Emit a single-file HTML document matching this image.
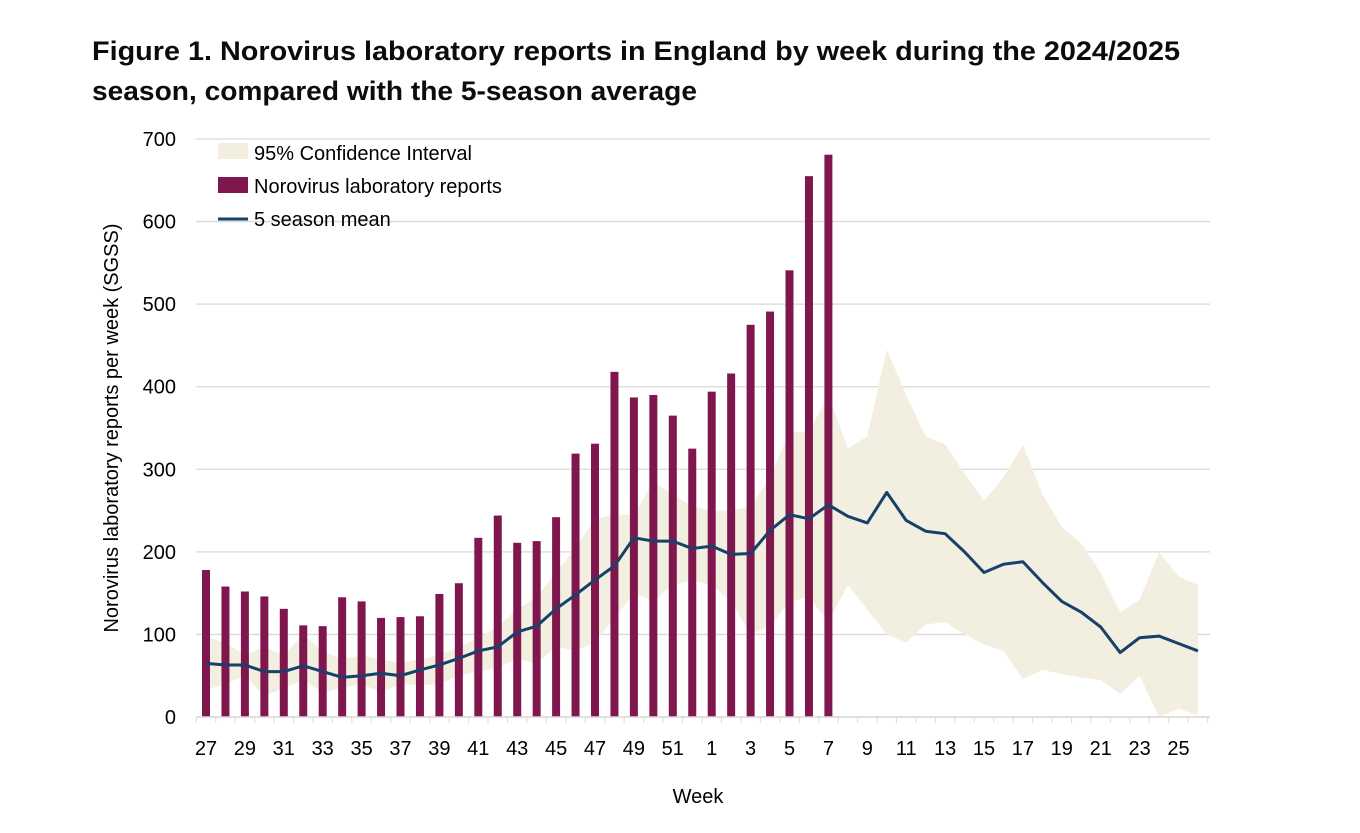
<!DOCTYPE html>
<html><head><meta charset="utf-8"><style>
body{margin:0;background:#fff;font-family:"Liberation Sans",Arial,sans-serif}
svg text{font-family:"Liberation Sans",Arial,sans-serif}
</style></head><body>
<svg id="c" width="1360" height="828">
<text x="92" y="60" font-size="27" font-weight="bold" fill="#0b0c0c" textLength="1088" lengthAdjust="spacingAndGlyphs">Figure 1. Norovirus laboratory reports in England by week during the 2024/2025</text>
<text x="92" y="100" font-size="27" font-weight="bold" fill="#0b0c0c" textLength="605" lengthAdjust="spacingAndGlyphs">season, compared with the 5-season average</text>
<g id="grid"></g><g id="ci"></g><g id="bars"></g><g id="line"></g><g id="axes"></g>
<text transform="translate(118,428) rotate(-90)" text-anchor="middle" font-size="20" fill="#000">Norovirus laboratory reports per week (SGSS)</text>
<text x="698" y="803" text-anchor="middle" font-size="20" fill="#000">Week</text>
<g>
<rect x="218" y="143" width="30" height="16" fill="#f2eee0"/>
<text x="254" y="160" font-size="20">95% Confidence Interval</text>
<rect x="218" y="177" width="30" height="16" fill="#7f174e"/>
<text x="254" y="193" font-size="20">Norovirus laboratory reports</text>
<line x1="218" y1="219" x2="248" y2="219" stroke="#17406a" stroke-width="3"/>
<text x="254" y="226" font-size="20">5 season mean</text>
</g>
</svg>
<script>
const weeks=[27,28,29,30,31,32,33,34,35,36,37,38,39,40,41,42,43,44,45,46,47,48,49,50,51,52,1,2,3,4,5,6,7,8,9,10,11,12,13,14,15,16,17,18,19,20,21,22,23,24,25,26];
const reports=[178,158,152,146,131,111,110,145,140,120,121,122,149,162,217,244,211,213,242,319,331,418,387,390,365,325,394,416,475,491,541,655,681];
const mean=[65,63,63,55,55,62,55,48,50,53,50,57,63,71,80,85,103,110,131,148,166,183,217,213,213,204,207,197,198,226,245,240,257,243,235,272,238,225,222,200,175,185,188,163,140,127,109,78,96,98,89,80];
const ciUpper=[97,90,75,85,75,100,80,70,75,70,65,70,75,85,95,110,130,145,175,205,240,245,245,285,270,255,250,250,255,290,345,345,390,325,340,445,390,340,330,295,262,290,330,270,230,210,175,127,142,200,170,160];
const ciLower=[33,40,50,25,35,45,30,35,40,30,40,38,40,50,55,60,70,65,85,80,90,120,150,140,160,165,160,140,100,110,140,145,115,160,130,100,90,112,115,100,88,80,46,57,52,48,45,28,50,0,10,2];
const yTicks=[0,100,200,300,400,500,600,700];
const NS="http://www.w3.org/2000/svg";
const X0=206,DX=19.45,Y0=717,KY=(717-139)/700;
const x=i=>X0+i*DX, y=v=>Y0-v*KY;
function mk(t,a,p){const e=document.createElementNS(NS,t);for(const k in a)e.setAttribute(k,a[k]);document.getElementById(p).appendChild(e);return e;}
yTicks.forEach(v=>{
 const g=mk('line',{x1:196,x2:1210,y1:y(v),y2:y(v),stroke:'#d9d9d9','stroke-width':1.3},'grid');
 
 
 const t=mk('text',{x:176,y:y(v)+7,'text-anchor':'end','font-size':20},'axes');t.textContent=v;
 
 
});
let pts=ciUpper.map((v,i)=>x(i)+','+y(v));
for(let i=ciLower.length-1;i>=0;i--)pts.push(x(i)+','+y(ciLower[i]));
const ci=mk('polygon',{points:pts.join(' '),fill:'#f2eee0'},'ci');


reports.forEach((v,i)=>{
 const b=mk('rect',{x:x(i)-4,y:y(v),width:8,height:v*KY,fill:'#7f174e'},'bars');
 
 
});
const ln=mk('polyline',{points:mean.map((v,i)=>x(i)+','+y(v)).join(' '),fill:'none',stroke:'#17406a','stroke-width':3,'stroke-linejoin':'round'},'line');


const ax=mk('line',{x1:196,x2:1210,y1:Y0,y2:Y0,stroke:'#d9d9d9','stroke-width':1.5},'axes');


weeks.forEach((w,i)=>{
 mk('line',{x1:x(i)+DX/2,x2:x(i)+DX/2,y1:Y0,y2:Y0+6,stroke:'#d9d9d9'},'axes');
 if(i%2===0){const t=mk('text',{x:x(i),y:755,'text-anchor':'middle','font-size':20},'axes');t.textContent=w;
 
 }
});
mk('line',{x1:X0-DX/2,x2:X0-DX/2,y1:Y0,y2:Y0+6,stroke:'#d9d9d9'},'axes');
</script>
</body></html>
